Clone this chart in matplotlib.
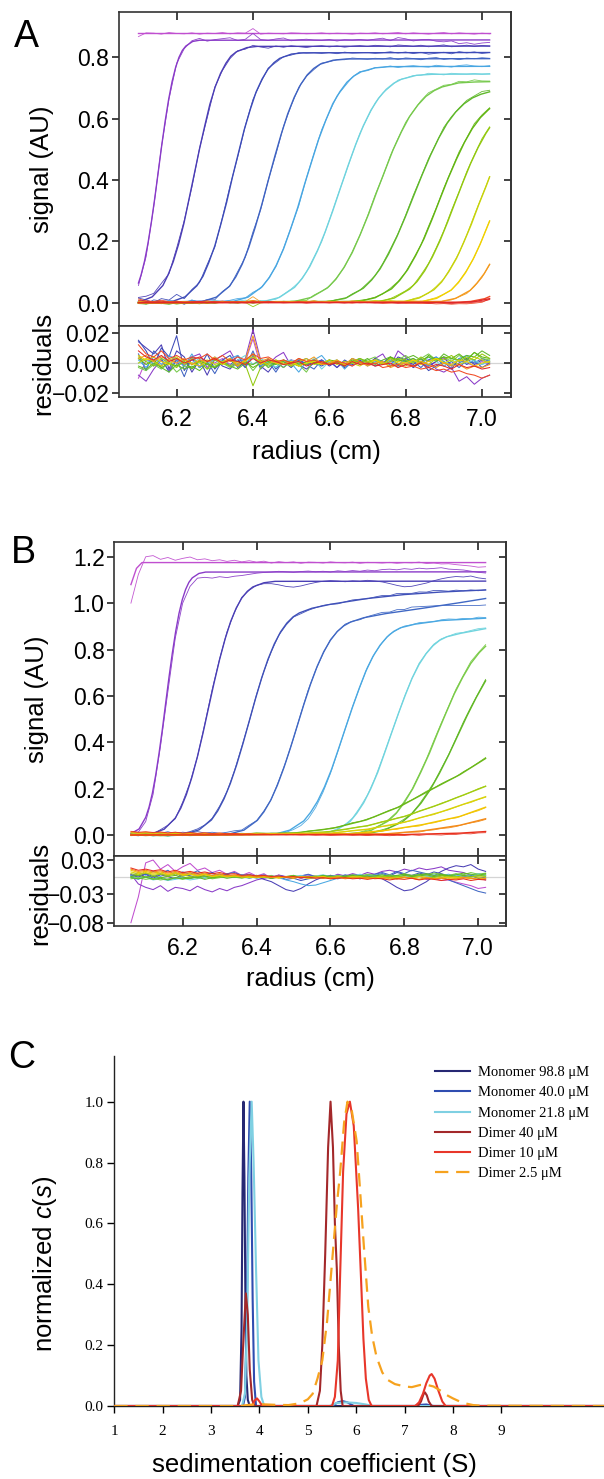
import numpy as np
import matplotlib
matplotlib.use("Agg")
import matplotlib.pyplot as plt

plt.rcParams['font.family'] = ['Liberation Sans', 'DejaVu Sans']
plt.rcParams['mathtext.fontset'] = 'custom'
plt.rcParams['mathtext.rm'] = 'Liberation Sans'
plt.rcParams['mathtext.it'] = 'Liberation Sans:italic'

# ---------------- Panel A : scans (fit curves) ----------------
A_colors = ['#c04fd0', '#8a3bc8', '#4b3db5', '#3d4bb8', '#3f63c2', '#48a6e2', '#6fd3de',
            '#76c94c', '#5fb82a', '#62b612', '#92c80e', '#c6d20a', '#f0d000', '#f39a1e',
            '#f04a24', '#e02828']
A_fit_r = [
    [6.100, 7.020],
    [6.100, 6.107, 6.116, 6.125, 6.134, 6.143, 6.152, 6.161, 6.170, 6.179, 6.188, 6.197, 6.206, 6.215, 6.224, 6.242, 6.260, 7.020],
    [6.100, 6.108, 6.136, 6.164, 6.177, 6.191, 6.205, 6.219, 6.232, 6.246, 6.260, 6.274, 6.287, 6.301, 6.315, 6.329, 6.342, 6.356, 6.384, 6.411, 7.020],
    [6.100, 6.191, 6.222, 6.253, 6.269, 6.284, 6.300, 6.315, 6.331, 6.346, 6.362, 6.377, 6.393, 6.408, 6.424, 6.439, 6.455, 6.470, 6.501, 6.532, 7.020],
    [6.100, 6.270, 6.304, 6.338, 6.355, 6.372, 6.389, 6.406, 6.423, 6.440, 6.457, 6.474, 6.491, 6.508, 6.525, 6.542, 6.559, 6.576, 6.610, 6.644, 7.020],
    [6.100, 6.350, 6.387, 6.424, 6.443, 6.461, 6.480, 6.498, 6.517, 6.535, 6.554, 6.572, 6.591, 6.609, 6.628, 6.646, 6.665, 6.683, 6.720, 6.757, 7.020],
    [6.100, 6.429, 6.469, 6.509, 6.529, 6.549, 6.569, 6.589, 6.609, 6.629, 6.649, 6.669, 6.689, 6.709, 6.729, 6.749, 6.769, 6.789, 6.829, 6.869, 7.020],
    [6.100, 6.509, 6.552, 6.595, 6.617, 6.638, 6.660, 6.681, 6.703, 6.724, 6.746, 6.767, 6.789, 6.810, 6.832, 6.853, 6.875, 6.896, 6.939, 6.982, 7.020],
    [6.100, 6.601, 6.645, 6.689, 6.711, 6.733, 6.755, 6.777, 6.799, 6.821, 6.843, 6.865, 6.887, 6.909, 6.931, 6.953, 6.975, 6.997, 7.020],
    [6.100, 6.678, 6.720, 6.763, 6.784, 6.805, 6.826, 6.848, 6.869, 6.890, 6.911, 6.933, 6.954, 6.975, 6.996, 7.018, 7.020],
    [6.100, 6.730, 6.770, 6.810, 6.830, 6.850, 6.870, 6.890, 6.910, 6.930, 6.950, 6.970, 6.990, 7.010, 7.020],
    [6.100, 6.796, 6.835, 6.874, 6.894, 6.913, 6.933, 6.952, 6.972, 6.991, 7.011, 7.020],
    [6.100, 6.843, 6.881, 6.919, 6.938, 6.957, 6.976, 6.995, 7.020],
    [6.100, 6.894, 6.931, 6.969, 6.987, 7.006, 7.020],
    [6.100, 6.932, 6.970, 7.007, 7.020],
    [6.100, 6.945, 6.983, 7.020],
]
A_fit_s = [
    [0.877, 0.877],
    [0.064, 0.091, 0.136, 0.194, 0.264, 0.343, 0.428, 0.513, 0.592, 0.662, 0.720, 0.765, 0.799, 0.822, 0.836, 0.851, 0.855, 0.856],
    [0.003, 0.005, 0.019, 0.056, 0.089, 0.133, 0.190, 0.258, 0.335, 0.418, 0.501, 0.578, 0.646, 0.703, 0.747, 0.780, 0.803, 0.817, 0.831, 0.835, 0.836],
    [0.000, 0.005, 0.019, 0.055, 0.086, 0.130, 0.185, 0.252, 0.327, 0.408, 0.488, 0.563, 0.630, 0.686, 0.729, 0.760, 0.782, 0.796, 0.810, 0.814, 0.815],
    [0.000, 0.005, 0.018, 0.053, 0.084, 0.126, 0.180, 0.246, 0.319, 0.398, 0.476, 0.549, 0.615, 0.669, 0.711, 0.742, 0.763, 0.777, 0.790, 0.794, 0.795],
    [0.000, 0.005, 0.018, 0.052, 0.082, 0.122, 0.175, 0.238, 0.309, 0.385, 0.461, 0.532, 0.595, 0.648, 0.688, 0.718, 0.739, 0.752, 0.765, 0.769, 0.770],
    [0.000, 0.004, 0.017, 0.050, 0.079, 0.118, 0.169, 0.230, 0.299, 0.373, 0.446, 0.515, 0.576, 0.627, 0.666, 0.695, 0.715, 0.728, 0.741, 0.744, 0.745],
    [0.000, 0.004, 0.017, 0.048, 0.076, 0.114, 0.163, 0.222, 0.289, 0.360, 0.431, 0.498, 0.557, 0.606, 0.644, 0.672, 0.691, 0.703, 0.716, 0.719, 0.720],
    [0.000, 0.004, 0.016, 0.047, 0.074, 0.110, 0.158, 0.215, 0.279, 0.348, 0.416, 0.480, 0.537, 0.585, 0.621, 0.648, 0.667, 0.679, 0.687],
    [0.000, 0.004, 0.016, 0.045, 0.072, 0.107, 0.153, 0.208, 0.271, 0.338, 0.404, 0.467, 0.522, 0.568, 0.603, 0.630, 0.632],
    [0.000, 0.004, 0.015, 0.044, 0.069, 0.104, 0.149, 0.202, 0.263, 0.328, 0.392, 0.453, 0.506, 0.551, 0.570],
    [0.000, 0.004, 0.015, 0.042, 0.067, 0.101, 0.144, 0.196, 0.255, 0.318, 0.380, 0.410],
    [0.000, 0.004, 0.014, 0.041, 0.065, 0.098, 0.140, 0.190, 0.266],
    [0.000, 0.004, 0.014, 0.040, 0.064, 0.095, 0.125],
    [0.000, 0.001, 0.004, 0.013, 0.020],
    [0.000, 0.001, 0.004, 0.013],
]
# residuals (units of 0.001) on the radius grid 6.10 ... 7.02
A_res_start, A_res_end = 6.10, 7.02
A_res = [
    [-10,2,1,-2,3,0,-1,2,-2,1,0,3,-1,2,1,16,-2,1,0,-1,2,1,-1,0,2,-1,1,0,-2,1,0,2,-1,1,3,-1,2,0,-2,1,3,-1,2,0,-2,1,-1],
    [-8,-12,-4,2,-5,3,-2,4,6,-3,2,5,8,-1,3,22,2,-1,4,7,-2,1,3,0,-1,2,-3,1,0,2,-1,3,6,-2,8,4,-3,1,2,-4,-6,-3,-12,-9,-14,-10,-8],
    [14,10,6,12,-4,8,4,-6,2,-8,3,-2,-4,2,-3,5,-2,-6,1,-3,2,-1,-4,0,2,-2,1,-3,0,2,-1,3,1,-2,4,2,-1,3,-2,1,4,-2,0,3,-1,2,0],
    [15,8,-2,10,4,18,-5,3,-3,6,-4,2,5,-3,1,6,-2,3,-4,1,-3,2,-1,0,-2,1,-3,2,-1,0,1,-2,0,3,-1,2,-3,1,-5,-2,1,-4,3,-1,2,-3,0],
    [6,-5,8,3,-6,2,-9,4,-3,1,-7,2,-2,5,-3,8,-4,1,-6,2,-2,3,-1,-4,2,-1,0,-2,3,1,-1,2,0,4,-2,3,1,-3,2,4,-2,1,-3,2,0,3,1],
    [2,-3,4,-1,5,2,-2,6,-3,1,2,-1,3,5,0,4,-2,1,-3,2,0,-6,1,2,5,-1,2,-4,1,3,-2,1,0,2,-3,1,3,0,-2,4,1,-2,3,5,1,-1,2],
    [0,2,-1,3,1,-2,2,0,3,-1,4,1,-2,2,5,-1,3,0,-3,1,2,0,-1,3,-4,1,2,-1,0,3,-1,2,1,-2,3,0,2,-1,4,1,-2,3,1,0,2,-1,1],
    [-3,-5,-1,-4,0,-6,-2,-3,1,-4,-2,0,-3,-1,2,-5,1,-2,0,-3,1,-1,-6,2,0,-1,1,-2,3,0,2,4,-1,3,2,5,1,3,6,2,4,1,5,2,7,3,2],
    [-2,-4,0,-3,-6,-1,-4,-2,-5,0,-3,1,-2,-4,0,-1,2,-3,0,1,-2,0,-1,2,-1,0,1,-2,2,0,3,-1,2,4,1,3,5,2,4,1,6,3,2,5,4,8,5],
    [3,-1,2,-3,0,-2,1,-4,2,-1,-3,0,2,-2,1,-3,0,1,-1,2,0,-2,1,0,-1,2,1,-1,0,3,1,2,-1,4,2,1,3,0,5,2,4,3,6,2,7,4,3],
    [4,1,-2,3,0,-3,2,-1,1,-4,2,0,-2,1,-1,-15,-3,0,2,-1,1,-2,0,1,-1,2,0,-1,1,3,0,2,-1,1,3,2,0,4,1,3,2,5,1,4,2,6,3],
    [0,3,1,-2,2,4,-1,3,0,2,-1,1,3,-2,2,4,1,-1,2,0,-2,1,3,-1,0,2,-1,1,0,-2,1,2,-1,3,0,-2,2,1,-1,3,0,2,-1,1,4,2,0],
    [5,2,4,1,-1,3,2,0,-2,1,3,-1,2,0,1,6,-1,2,0,-1,1,-2,0,1,-1,0,2,-1,1,0,-1,2,0,-2,1,0,2,-1,1,3,0,-1,2,1,-2,0,1],
    [3,5,1,4,2,0,3,-1,2,1,4,0,3,-2,2,18,1,3,0,2,-1,3,1,4,-1,0,2,-1,3,1,-2,0,1,-3,-1,0,-2,1,-1,-3,0,-2,-1,-4,-2,-3,-1],
    [12,6,4,8,3,5,2,4,3,6,2,5,1,4,2,6,3,4,1,2,0,3,1,2,0,-1,1,0,-2,1,-1,0,-3,-2,-1,-3,-2,-4,-3,-5,-4,-6,-5,-7,-8,-10,-8],
    [8,4,2,5,1,3,0,2,4,1,3,0,2,1,-1,3,0,2,1,-1,0,1,-2,0,1,-1,0,-2,1,-1,0,-2,-1,0,-3,-1,-2,0,-3,-1,-2,-4,-1,-3,-2,-4,-3],
]

# ---------------- Panel B ----------------
B_colors = ['#c04fd0', '#8a3bc8', '#4a3fb5', '#3f50b8', '#4068c4', '#4aa8e2', '#70d4de',
            '#7acb48', '#60b824', '#6ab818', '#a2cc10', '#d8d20a', '#f2c400', '#f38a18', '#e8301e']
B_fit_r = [
    [6.060, 6.075, 6.090, 7.020],
    [6.060, 6.082, 6.100, 6.109, 6.118, 6.127, 6.136, 6.145, 6.154, 6.163, 6.172, 6.181, 6.190, 6.199, 6.208, 6.217, 6.226, 6.244, 6.262, 7.020],
    [6.060, 6.120, 6.150, 6.180, 6.195, 6.210, 6.225, 6.240, 6.255, 6.270, 6.285, 6.300, 6.315, 6.330, 6.345, 6.360, 6.375, 6.390, 6.420, 6.450, 7.020],
    [6.060, 6.150, 6.210, 6.244, 6.278, 6.295, 6.312, 6.329, 6.346, 6.363, 6.380, 6.397, 6.414, 6.431, 6.448, 6.465, 6.482, 6.499, 6.516, 6.550, 6.600, 6.700, 6.800, 6.900, 7.020],
    [6.060, 6.330, 6.366, 6.402, 6.420, 6.438, 6.456, 6.474, 6.492, 6.510, 6.528, 6.546, 6.564, 6.582, 6.600, 6.618, 6.636, 6.654, 6.690, 6.750, 6.850, 6.950, 7.020],
    [6.060, 6.453, 6.490, 6.528, 6.546, 6.565, 6.584, 6.603, 6.621, 6.640, 6.659, 6.678, 6.696, 6.715, 6.734, 6.753, 6.771, 6.790, 6.828, 6.900, 7.020],
    [6.060, 6.578, 6.615, 6.653, 6.671, 6.690, 6.709, 6.728, 6.746, 6.765, 6.784, 6.803, 6.821, 6.840, 6.859, 6.878, 6.896, 6.915, 6.953, 7.020],
    [6.060, 6.665, 6.710, 6.755, 6.778, 6.800, 6.823, 6.845, 6.868, 6.890, 6.913, 6.935, 6.958, 6.980, 7.003, 7.020],
    [6.060, 6.695, 6.745, 6.795, 6.820, 6.845, 6.870, 6.895, 6.920, 6.945, 6.970, 6.995, 7.020],
    [6.060, 6.500, 6.607, 6.697, 6.787, 6.878, 6.950, 7.020],
    [6.060, 6.500, 6.600, 6.700, 6.800, 6.900, 7.020],
    [6.060, 6.600, 6.700, 6.800, 6.900, 7.020],
    [6.060, 6.650, 6.750, 6.850, 6.950, 7.020],
    [6.060, 6.750, 6.850, 6.950, 7.020],
    [6.060, 6.800, 6.950, 7.020],
]
B_fit_s = [
    [1.080, 1.150, 1.175, 1.175],
    [0.006, 0.026, 0.076, 0.120, 0.180, 0.258, 0.351, 0.455, 0.568, 0.680, 0.784, 0.877, 0.955, 1.015, 1.059, 1.090, 1.109, 1.128, 1.134, 1.135],
    [0.000, 0.007, 0.025, 0.073, 0.116, 0.174, 0.249, 0.338, 0.439, 0.548, 0.656, 0.757, 0.846, 0.921, 0.979, 1.022, 1.051, 1.070, 1.088, 1.094, 1.095],
    [0.000, 0.001, 0.006, 0.022, 0.065, 0.104, 0.156, 0.222, 0.302, 0.393, 0.490, 0.587, 0.678, 0.758, 0.824, 0.876, 0.914, 0.941, 0.958, 0.978, 0.995, 1.020, 1.037, 1.048, 1.057],
    [0.000, 0.006, 0.021, 0.063, 0.100, 0.149, 0.213, 0.290, 0.377, 0.470, 0.563, 0.650, 0.727, 0.791, 0.840, 0.877, 0.902, 0.918, 0.937, 0.955, 0.978, 1.002, 1.020],
    [0.000, 0.005, 0.021, 0.061, 0.097, 0.145, 0.208, 0.283, 0.367, 0.458, 0.548, 0.633, 0.707, 0.770, 0.818, 0.854, 0.878, 0.894, 0.909, 0.925, 0.935],
    [0.000, 0.005, 0.020, 0.058, 0.093, 0.139, 0.199, 0.270, 0.351, 0.438, 0.524, 0.605, 0.676, 0.736, 0.782, 0.817, 0.840, 0.855, 0.870, 0.890],
    [0.000, 0.005, 0.020, 0.059, 0.093, 0.140, 0.200, 0.272, 0.353, 0.440, 0.527, 0.608, 0.680, 0.740, 0.787, 0.814],
    [0.000, 0.005, 0.020, 0.057, 0.091, 0.137, 0.195, 0.266, 0.345, 0.430, 0.515, 0.594, 0.665],
    [0.000, 0.008, 0.029, 0.065, 0.122, 0.200, 0.260, 0.330],
    [0.000, 0.003, 0.015, 0.040, 0.080, 0.135, 0.210],
    [0.000, 0.008, 0.025, 0.055, 0.100, 0.165],
    [0.000, 0.005, 0.020, 0.045, 0.080, 0.120],
    [0.000, 0.005, 0.018, 0.042, 0.070],
    [0.000, 0.002, 0.008, 0.015],
]
B_res_start, B_res_end = 6.06, 7.02
B_res = [
    [-80,-35,25,30,14,22,10,18,24,12,16,8,12,5,10,3,8,2,6,-2,4,0,3,-3,2,1,-2,3,0,-1,2,-3,1,0,-2,1,-3,0,-1,2,-4,-2,-6,-5,-9,-12,-15,-20,-18],
    [5,-12,-18,-22,-15,-25,-18,-20,-24,-16,-22,-26,-20,-24,-18,-15,-10,-5,-2,0,3,1,-1,2,4,1,3,0,5,2,6,3,8,5,10,12,9,14,11,16,13,15,18,12,10,8,3,-2,-5],
    [3,0,5,-2,4,1,-3,6,2,-1,4,8,2,5,0,3,-2,1,-4,-8,-15,-22,-25,-20,-12,-5,0,3,1,-2,2,0,4,1,-3,-10,-18,-24,-22,-15,-8,2,10,16,20,18,22,14,10],
    [4,2,6,1,5,3,8,2,4,6,1,3,5,0,2,4,-1,3,1,-2,0,-4,-2,-6,-3,-1,2,0,-3,1,4,2,-1,3,6,2,8,5,3,7,4,9,6,2,5,1,3,-2,0],
    [2,8,4,10,6,12,3,9,5,11,4,7,2,6,8,3,5,1,4,-2,3,0,-1,2,5,1,-2,3,0,4,1,-3,2,5,8,4,10,6,12,9,6,3,0,-5,-10,-15,-20,-25,-28],
    [0,-4,2,-3,1,-5,-2,0,-3,1,-2,3,0,-1,2,4,1,-2,0,3,-1,-5,-8,-12,-15,-14,-10,-6,-2,0,2,-1,3,1,0,2,-1,3,1,4,2,0,3,5,2,4,1,6,3],
    [2,-2,0,-5,-3,-6,-4,-2,-5,-3,0,-2,1,-1,2,0,-2,1,3,0,2,-1,1,3,0,2,4,1,3,0,2,5,1,3,4,2,0,3,1,5,2,4,3,1,5,2,4,6,3],
    [-3,-1,-4,-2,-5,-3,-1,-4,0,-2,1,-3,-1,2,0,-2,1,-1,0,2,-1,1,3,0,-2,1,2,0,3,1,4,2,5,3,1,4,2,6,3,5,4,7,5,3,6,4,8,5,7],
    [-1,-3,0,-4,-2,-5,-1,-3,-2,0,-4,-1,1,-2,0,2,-1,1,0,-2,1,0,2,-1,1,0,3,1,-1,2,0,3,1,2,4,1,3,5,2,4,6,3,5,2,4,7,5,3,6],
    [1,3,0,2,-1,1,3,0,-2,1,2,-1,0,2,1,-1,0,3,1,-2,0,1,2,-1,1,0,-1,2,0,1,3,0,2,-1,1,2,0,3,1,2,4,1,3,2,0,3,1,2,4],
    [6,4,7,3,5,2,6,4,1,3,5,2,0,3,1,2,-1,1,0,2,-1,0,1,-1,0,2,-1,0,1,-2,0,1,-1,0,2,-1,1,0,-2,1,0,-1,2,0,1,-1,0,2,1],
    [9,6,8,5,7,4,6,3,5,2,4,1,3,0,2,1,-1,2,0,1,-1,0,-2,1,0,-1,1,-2,0,-1,1,0,-2,-1,0,-3,-1,0,-2,1,-1,-3,0,-2,-1,0,-3,-1,-2],
    [12,8,10,7,9,5,8,4,6,3,5,2,4,1,3,0,2,-1,1,0,-2,1,-1,0,-2,-1,1,-3,0,-1,-2,0,-3,-1,-2,0,-3,-1,-2,-4,-1,-3,-2,0,-3,-1,-2,-4,-2],
    [14,10,12,9,11,7,10,6,8,5,7,3,6,2,4,1,3,0,2,-1,1,0,-2,1,-1,0,-2,-1,0,-3,-1,-2,0,-3,-2,-1,-3,0,-2,-4,-1,-3,-2,-4,-3,-1,-2,-4,-3],
    [16,12,14,11,13,9,12,8,10,7,9,6,8,5,6,3,4,2,3,1,2,0,1,-1,0,-2,-1,-3,-2,-1,-3,-2,-4,-2,-3,-5,-3,-4,-2,-5,-3,-4,-6,-4,-5,-3,-6,-4,-5],
]

# ---------------- Panel C : c(s) distributions ----------------
C_labels = ['Monomer 98.8 \u03bcM', 'Monomer 40.0 \u03bcM', 'Monomer 21.8 \u03bcM',
            'Dimer 40 \u03bcM', 'Dimer 10 \u03bcM', 'Dimer 2.5 \u03bcM']
C_colors = ['#262873', '#2f4db0', '#7fd0e2', '#a3282a', '#e8362a', '#f6a21e']
C_s = [
    [1.0, 3.55, 3.60, 3.63, 3.65, 3.67, 3.69, 3.71, 3.73, 3.76, 3.80, 11.2],
    [1.0, 3.66, 3.70, 3.74, 3.77, 3.80, 3.83, 3.86, 3.89, 3.93, 5.50, 5.62, 5.72, 5.82, 5.95, 7.20, 7.35, 7.45, 7.60, 11.2],
    [1.0, 3.64, 3.70, 3.75, 3.79, 3.84, 3.88, 3.93, 3.98, 4.04, 4.10, 5.45, 5.60, 5.80, 6.00, 6.20, 6.35, 11.2],
    [1.0, 3.55, 3.62, 3.67, 3.72, 3.76, 3.80, 3.85, 3.90, 5.18, 5.25, 5.30, 5.36, 5.42, 5.47, 5.52, 5.56, 5.60, 5.64, 5.68, 5.72,
     7.28, 7.34, 7.39, 7.42, 7.46, 7.50, 7.56, 11.2],
    [1.0, 3.85, 3.90, 3.95, 4.00, 4.06, 5.50, 5.56, 5.62, 5.67, 5.73, 5.80, 5.87, 5.95, 6.04, 6.10, 6.15, 6.20, 6.26, 6.32,
     7.22, 7.30, 7.38, 7.45, 7.52, 7.56, 7.62, 7.70, 7.78, 7.85, 11.2],
    [1.0, 3.60, 3.80, 4.00, 4.30, 4.60, 4.84, 5.00, 5.10, 5.20, 5.30, 5.40, 5.50, 5.60, 5.67, 5.75, 5.82, 5.90, 6.01, 6.08,
     6.15, 6.25, 6.33, 6.42, 6.54, 6.66, 6.80, 7.01, 7.15, 7.32, 7.45, 7.60, 7.75, 7.87, 8.00, 8.15, 8.30, 8.42, 8.60, 11.2],
]
C_c = [
    [0, 0, 0.02, 0.25, 0.70, 1.00, 0.75, 0.35, 0.10, 0.02, 0, 0],
    [0, 0, 0.03, 0.30, 0.75, 1.00, 0.78, 0.35, 0.08, 0, 0, 0.012, 0.016, 0.012, 0, 0, 0.004, 0.005, 0, 0],
    [0, 0, 0.04, 0.30, 0.75, 1.00, 0.80, 0.45, 0.15, 0.03, 0, 0, 0.010, 0.012, 0.010, 0.005, 0, 0],
    [0, 0, 0.05, 0.22, 0.37, 0.30, 0.12, 0.02, 0, 0, 0.05, 0.20, 0.50, 0.85, 1.00, 0.85, 0.60, 0.45, 0.20, 0.05, 0,
     0, 0.015, 0.038, 0.045, 0.035, 0.015, 0, 0],
    [0, 0, 0.018, 0.025, 0.015, 0, 0, 0.03, 0.15, 0.44, 0.77, 0.96, 1.00, 0.92, 0.65, 0.42, 0.22, 0.09, 0.02, 0,
     0, 0.012, 0.04, 0.075, 0.10, 0.105, 0.09, 0.05, 0.015, 0, 0],
    [0, 0, 0.004, 0.006, 0.004, 0.003, 0.009, 0.022, 0.04, 0.09, 0.15, 0.28, 0.47, 0.66, 0.77, 0.93, 1.00, 0.98, 0.87, 0.71,
     0.545, 0.326, 0.23, 0.162, 0.11, 0.085, 0.072, 0.064, 0.062, 0.069, 0.07, 0.064, 0.05, 0.036, 0.025, 0.014, 0.007, 0.003, 0.001, 0],
]
C_styles = ['-', '-', '-', '-', '-', '--']

# ---------------- layout ----------------
W, H = 604, 1479
fig = plt.figure(figsize=(W / 100, H / 100), dpi=100)


def rect(l, t, r, b):
    return [l / W, 1 - b / H, (r - l) / W, (b - t) / H]


SPINE = '#333333'
TICKFS = 16.5
LABFS = 18.5
XT = [6.2, 6.4, 6.6, 6.8, 7.0]
XTL = ['6.2', '6.4', '6.6', '6.8', '7.0']


def style_box(ax, yticks, ylabels, xlabels_on, xlim, ylim):
    ax.set_xlim(*xlim)
    ax.set_ylim(*ylim)
    ax.set_xticks(XT)
    ax.set_xticklabels(XTL if xlabels_on else [])
    ax.set_yticks(yticks)
    ax.set_yticklabels(ylabels)
    for sp in ax.spines.values():
        sp.set_linewidth(1.2)
        sp.set_color(SPINE)
    ax.tick_params(axis='y', direction='out', length=5, width=1.2, color='#222222',
                   labelsize=TICKFS, left=True, right=False, pad=2)
    ax.tick_params(axis='x', direction='in', length=6, width=1.2, color='#222222',
                   labelsize=TICKFS, top=True, bottom=True, labelbottom=xlabels_on, pad=8)
    sec = ax.secondary_yaxis('right')
    sec.set_yticks(yticks)
    sec.set_yticklabels([])
    sec.tick_params(direction='in', length=5, width=1.2, color='#222222')
    sec.spines['right'].set_linewidth(1.2)
    sec.spines['right'].set_color(SPINE)


def draw_scans(ax, axr, colors, fit_r, fit_s, res, r0, r1):
    for col, fr, fs, rs in zip(colors, fit_r, fit_s, res):
        grid = np.linspace(r0, r1, len(rs))
        resid = np.array(rs) * 0.001
        data = np.interp(grid, fr, fs) + resid
        ax.plot(grid, data, color=col, lw=0.6, alpha=0.95)
        ax.plot(fr, fs, color=col, lw=1.0)
        axr.plot(grid, resid, color=col, lw=0.75)
    axr.axhline(0, color='#d4d4d4', lw=0.9, zorder=0)


# Panel A
axA = fig.add_axes(rect(119, 12, 511, 326))
axAr = fig.add_axes(rect(119, 326, 511, 397))
draw_scans(axA, axAr, A_colors, A_fit_r, A_fit_s, A_res, A_res_start, A_res_end)
style_box(axA, [0.0, 0.2, 0.4, 0.6, 0.8], ['0.0', '0.2', '0.4', '0.6', '0.8'], False,
          (6.049, 7.076), (-0.076, 0.947))
style_box(axAr, [-0.02, 0.0, 0.02], ['\u22120.02', '0.00', '0.02'], True,
          (6.049, 7.076), (-0.0224, 0.0244))

# Panel B
axB = fig.add_axes(rect(114.3, 541.7, 506.3, 856))
axBr = fig.add_axes(rect(114.3, 856, 506.3, 926))
draw_scans(axB, axBr, B_colors, B_fit_r, B_fit_s, B_res, B_res_start, B_res_end)
style_box(axB, [0.0, 0.2, 0.4, 0.6, 0.8, 1.0, 1.2], ['0.0', '0.2', '0.4', '0.6', '0.8', '1.0', '1.2'], False,
          (6.015, 7.076), (-0.0906, 1.265))
style_box(axBr, [-0.08, -0.03, 0.03], ['\u22120.08', '\u22120.03', '0.03'], True,
          (6.015, 7.076), (-0.0858, 0.037))

# labels A/B
fig.text(42 / W, 1 - 169 / H, 'signal (AU)', rotation=90, ha='center', va='center', fontsize=LABFS)
fig.text(43 / W, 1 - 363 / H, 'residuals', rotation=90, ha='center', va='center', fontsize=LABFS)
fig.text(316 / W, 1 - 452 / H, 'radius (cm)', ha='center', va='center', fontsize=LABFS)
fig.text(37 / W, 1 - 699 / H, 'signal (AU)', rotation=90, ha='center', va='center', fontsize=LABFS)
fig.text(40 / W, 1 - 893 / H, 'residuals', rotation=90, ha='center', va='center', fontsize=LABFS)
fig.text(310 / W, 1 - 979 / H, 'radius (cm)', ha='center', va='center', fontsize=LABFS)
fig.text(14 / W, 1 - 47 / H, 'A', fontsize=27, ha='left', va='baseline')
fig.text(11 / W, 1 - 563 / H, 'B', fontsize=27, ha='left', va='baseline')
fig.text(8 / W, 1 - 1068 / H, 'C', fontsize=27, ha='left', va='baseline')

# Panel C
axC = fig.add_axes(rect(114.3, 1056, 604, 1406))
for lab, col, xs, ys, ls in zip(C_labels, C_colors, C_s, C_c, C_styles):
    if ls == '--':
        axC.plot(xs, ys, color=col, lw=1.6, dashes=(6, 3.5), label=lab, zorder=3)
    else:
        axC.plot(xs, ys, color=col, lw=1.5, label=lab, zorder=3)
axC.set_xlim(1, 1 + (W - 114.3) / 48.375)
axC.set_ylim(0, 1.15)
axC.set_xticks([1, 2, 3, 4, 5, 6, 7, 8, 9])
axC.set_xticklabels(['1', '2', '3', '4', '5', '6', '7', '8', '9'])
axC.set_yticks([0.0, 0.2, 0.4, 0.6, 0.8, 1.0])
axC.set_yticklabels(['0.0', '0.2', '0.4', '0.6', '0.8', '1.0'])
for k in ('top', 'right'):
    axC.spines[k].set_visible(False)
for k in ('left', 'bottom'):
    axC.spines[k].set_linewidth(1.0)
    axC.spines[k].set_color('#222222')
axC.tick_params(direction='out', length=5, width=1.0, labelsize=11, pad=3,
                labelfontfamily='Liberation Serif')
axC.tick_params(axis='x', pad=9)
fig.text(45 / W, 1 - 1264 / H, r'normalized $c(s)$', rotation=90, ha='center', va='center', fontsize=LABFS)
fig.text(314 / W, 1 - 1465 / H, 'sedimentation coefficient (S)', ha='center', va='center', fontsize=LABFS)
axC.legend(loc='upper left', bbox_to_anchor=(435 / W, 1 - 1066 / H), bbox_transform=fig.transFigure,
           frameon=False, borderpad=0, borderaxespad=0, handlelength=2.4, handletextpad=0.55,
           labelspacing=0.48, prop={'family': 'Liberation Serif', 'size': 10.5})

fig.savefig('out.png', dpi=100)
